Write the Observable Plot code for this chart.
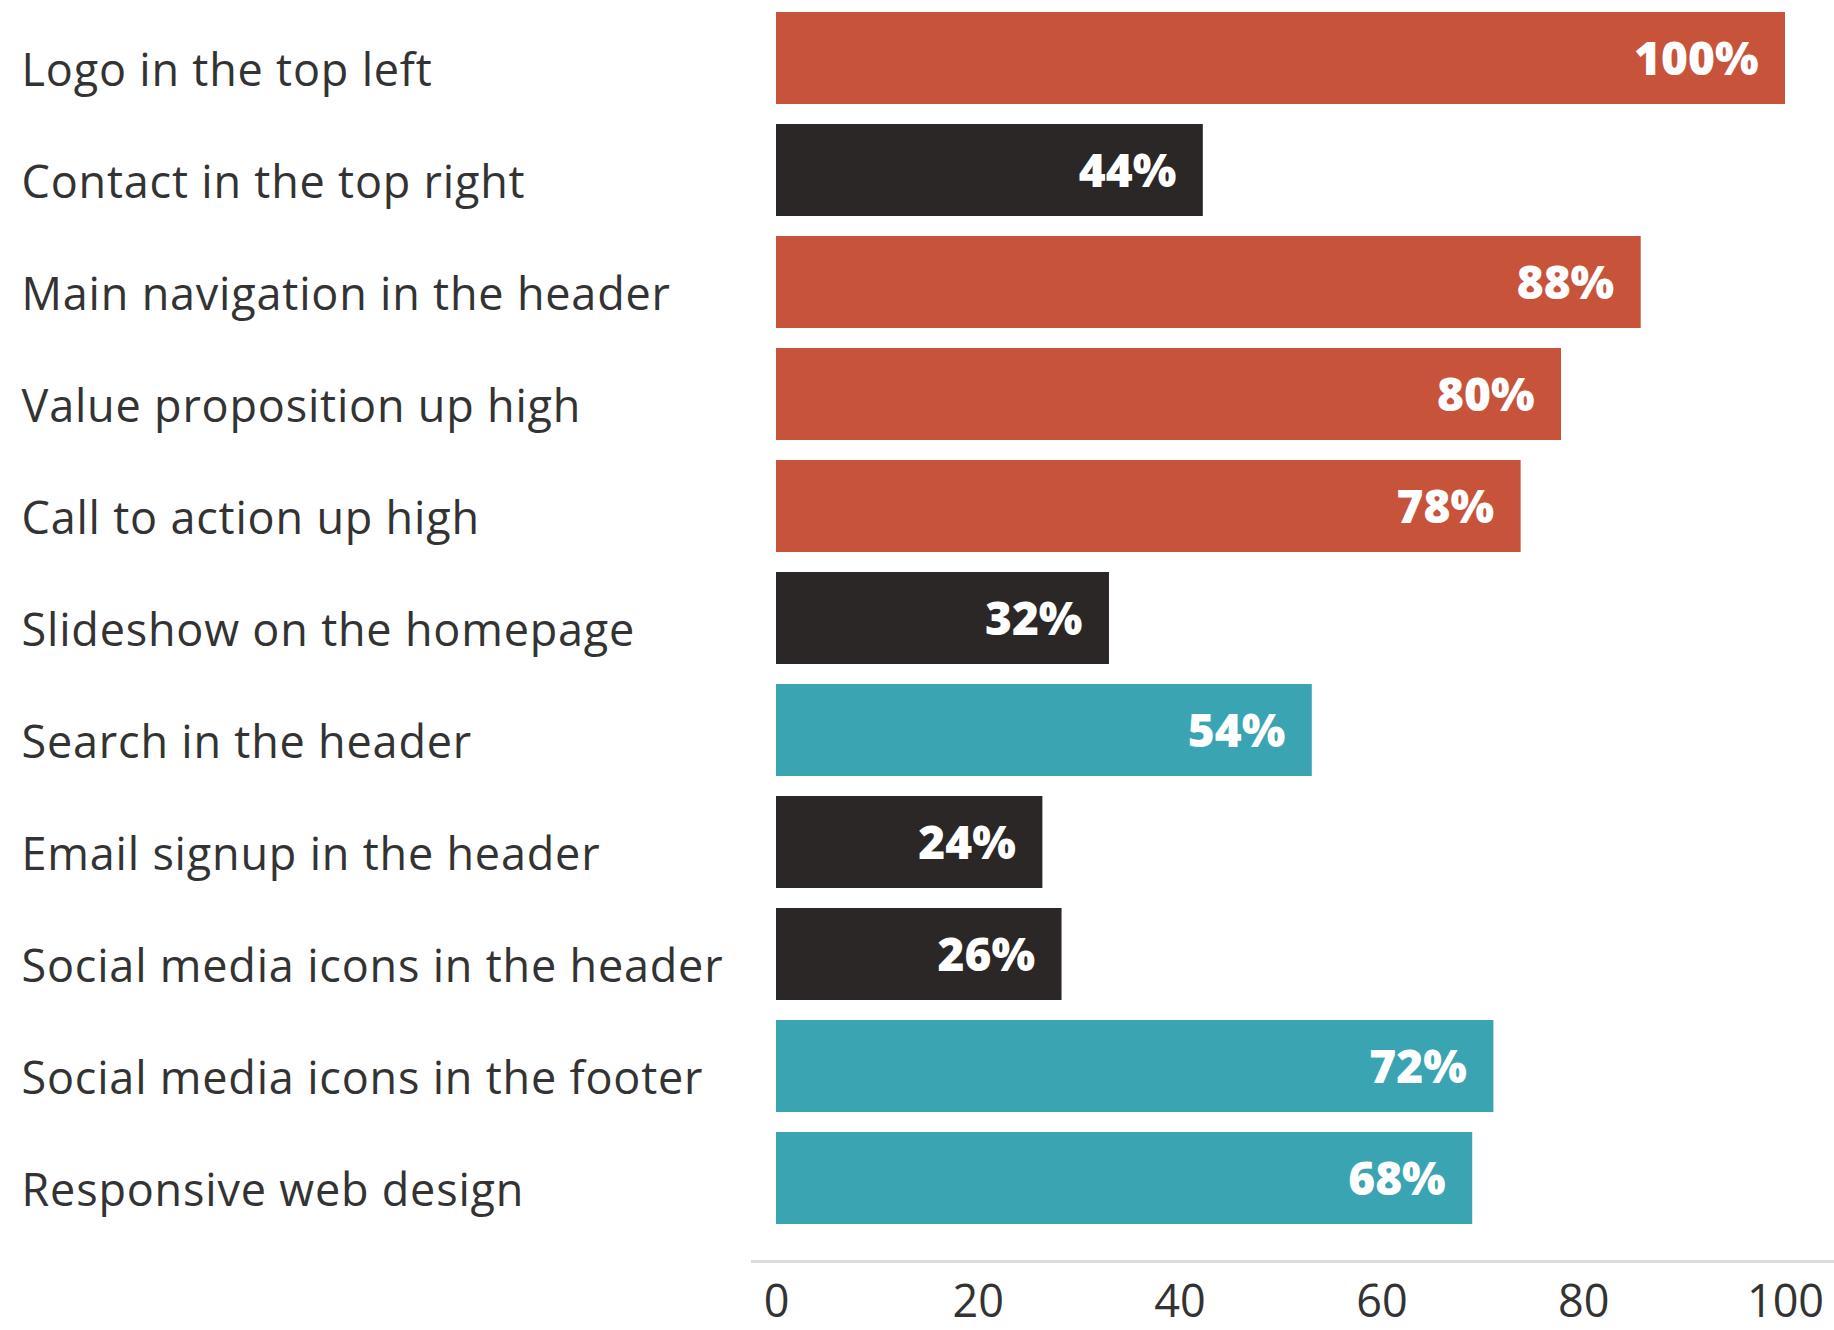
<!DOCTYPE html>
<html>
<head>
<meta charset="utf-8">
<script src="https://cdn.jsdelivr.net/npm/d3@7"></script>
<script src="https://cdn.jsdelivr.net/npm/@observablehq/plot@0.6"></script>
<style>
  html, body { margin: 0; padding: 0; background: #fff; }
  #chart svg { display: block; }
  #chart g[aria-description="category labels"] text { letter-spacing: 0.8px; }
</style>
</head>
<body>
<div id="chart"></div>
<script>
const categories = [
  "Logo in the top left",
  "Contact in the top right",
  "Main navigation in the header",
  "Value proposition up high",
  "Call to action up high",
  "Slideshow on the homepage",
  "Search in the header",
  "Email signup in the header",
  "Social media icons in the header",
  "Social media icons in the footer",
  "Responsive web design"
];
// Bar lengths as drawn in the picture
const barLengths = [100, 42.3, 85.7, 77.8, 73.8, 33.0, 53.1, 26.4, 28.3, 71.1, 69.0];
// Percentages printed on the bars
const labelValues = [100, 44, 88, 80, 78, 32, 54, 24, 26, 72, 68];
const groups = ["red", "dark", "red", "red", "red", "dark", "teal", "dark", "dark", "teal", "teal"];
const groupNames = ["red", "dark", "teal"];
const groupColors = ["#C8533B", "#2B2727", "#3AA4B2"];
const xTicks = [0, 20, 40, 60, 80, 100];

const data = categories.map((c, i) => ({
  category: c, length: barLengths[i], label: labelValues[i] + "%", group: groups[i]
}));

const font = "'Open Sans', sans-serif";

const chart = Plot.plot({
  width: 1834,
  height: 1330,
  marginLeft: 776,
  marginRight: 49,
  marginTop: 12,
  marginBottom: 105,
  style: {fontFamily: font, background: "#fff"},
  x: {domain: [0, 100], ticks: xTicks},
  y: {domain: categories, paddingInner: 0.175, paddingOuter: 0},
  color: {domain: groupNames, range: groupColors},
  marks: [
    Plot.frame({anchor: "bottom", dy: 36, insetLeft: -24, insetRight: -49, stroke: "#dcdcdc", strokeWidth: 3}),
    Plot.barX(data, {x: "length", y: "category", fill: "group"}),
    Plot.text(data, {
      x: "length", y: "category", text: "label",
      textAnchor: "end", dx: -27, dy: 2, fill: "white",
      fontSize: 46, fontWeight: 800, fontFamily: font
    }),
    Plot.text(data, {
      y: "category", text: "category", frameAnchor: "left",
      textAnchor: "start", dx: -755, dy: 13,
      fill: "#333", fontSize: 45, fontFamily: font,
      ariaDescription: "category labels"
    }),
    Plot.axisX({ticks: xTicks, tickSize: 0, tickPadding: 60, fontSize: 45, fill: "#333", label: null}),
    Plot.axisY({ticks: [], label: null, tickSize: 0})
  ]
});
document.getElementById("chart").appendChild(chart);
</script>
</body>
</html>
